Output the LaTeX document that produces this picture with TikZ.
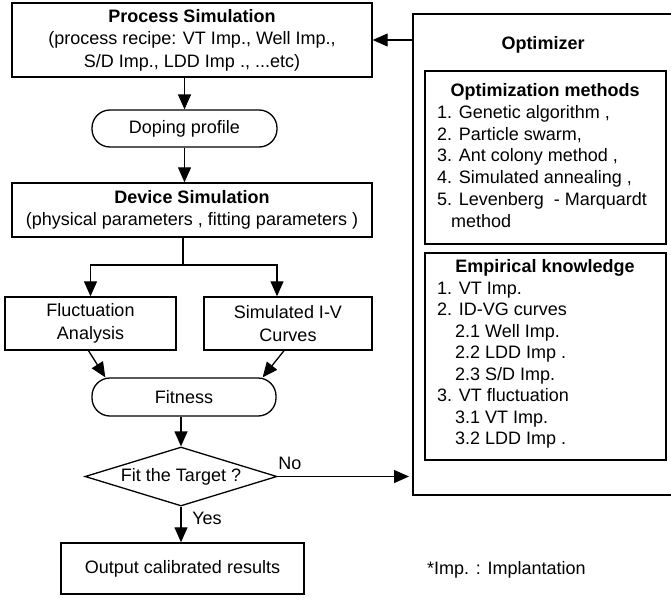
\documentclass[tikz,border=0pt]{standalone}
\usepackage{fontspec}
\setmainfont{Liberation Sans}
\usetikzlibrary{arrows.meta,shapes.geometric}
\begin{document}
\begin{tikzpicture}[x=1pt,y=-1pt,
  every node/.style={font=\fontsize{18}{22.5}\selectfont},
  box/.style={draw,line width=1.4pt,inner sep=0pt,align=center},
  pill/.style={draw,line width=1.3pt,rounded corners=18pt,inner sep=0pt},
  arr/.style={line width=1.3pt,-{Triangle[length=15pt,width=13pt]}},
  plain/.style={line width=1.3pt},
  item/.style={anchor=west,inner sep=0pt,text height=12.5pt,text depth=3.5pt},
  lbl/.style={inner sep=0pt}]
\useasboundingbox (0,0) rectangle (671,597);
% left flow
\node[box,minimum width=360pt,minimum height=74pt] (proc) at (192,40)
  {\textbf{Process Simulation}\\(process recipe: VT Imp., Well Imp.,\\S/D Imp., LDD Imp ., ...etc)};
\node[pill,minimum width=185pt,minimum height=37pt] (dop) at (184.5,128.5) {Doping profile};
\node[box,minimum width=360pt,minimum height=54pt] (dev) at (192,210)
  {\textbf{Device Simulation}\\(physical parameters , fitting parameters )};
\node[box,minimum width=171pt,minimum height=53pt] (fluc) at (90.5,323.5) {Fluctuation\\Analysis};
\node[box,minimum width=168pt,minimum height=53pt] (sim) at (288,323.5) {Simulated I-V\\Curves};
\node[pill,minimum width=184pt,minimum height=38pt] (fit) at (184,397) {Fitness};
\node[draw,line width=1.3pt,shape=diamond,aspect=3.25,inner sep=0pt,
  minimum width=192pt,minimum height=59pt] (dia) at (181,476.5) {Fit the Target ?};
\node[box,minimum width=243pt,minimum height=51pt] (out) at (182.5,568.5) {Output calibrated results};
\node[lbl] (no) at (290,463) {No};
\node[lbl] (yes) at (207,518) {Yes};
% optimizer
\draw[line width=1.4pt] (671,14) -- (413,14) -- (413,495) -- (671,495);
\coordinate (optTop) at (413,40);
\coordinate (optNo) at (409,476.5);
\node[lbl] (opttitle) at (543,45) {\textbf{Optimizer}};
\node[box,minimum width=241pt,minimum height=173pt] (om) at (545.5,157.5) {};
\node[lbl] (omh) at (545,92) {\textbf{Optimization methods}};
\foreach \t/\xx [count=\i] in {{1. Genetic algorithm ,}/437,{2. Particle swarm,}/437,
  {3. Ant colony method ,}/437,{4. Simulated annealing ,}/437,
  {5. Levenberg\ \ - Marquardt}/437,{method}/451}
  \node[item] (om\i) at (\xx,92+21.8*\i) {\t};
\node[box,minimum width=241pt,minimum height=207pt] (ek) at (545.5,356.5) {};
\node[lbl] (ekh) at (545,268) {\textbf{Empirical knowledge}};
\foreach \t/\xx [count=\i] in {{1. VT Imp.}/437,{2. ID-VG curves}/437,{2.1 Well Imp.}/455,
  {2.2 LDD Imp .}/455,{2.3 S/D Imp.}/455,{3. VT fluctuation}/437,
  {3.1 VT Imp.}/455,{3.2 LDD Imp .}/455}
  \node[item] (ek\i) at (\xx,268+21.5*\i) {\t};
\node[anchor=west,inner sep=0pt] (note) at (427,570) {*Imp. : Implantation};
% connectors
\draw[arr] (dop.north |- proc.south) -- (dop.north);
\draw[arr] (dop.south) -- (dop.south |- dev.north);
\coordinate (split) at (183,265);
\draw[plain] (split |- dev.south) -- (split);
\draw[arr] (split) -| (fluc.north);
\draw[arr] (split) -| ([xshift=-11pt]sim.north);
\draw[arr] ([xshift=-2pt]fluc.south) -- ([xshift=14pt]fit.north west);
\draw[arr] ([xshift=-4pt]sim.south) -- ([xshift=-14pt]fit.north east);
\draw[arr] (dia.north |- fit.south) -- (dia.north);
\draw[arr] (dia.south) -- (dia.south |- out.north);
\draw[arr] (dia.east) -- (optNo);
\draw[arr] (optTop) -- (proc.east);
\end{tikzpicture}
\end{document}
